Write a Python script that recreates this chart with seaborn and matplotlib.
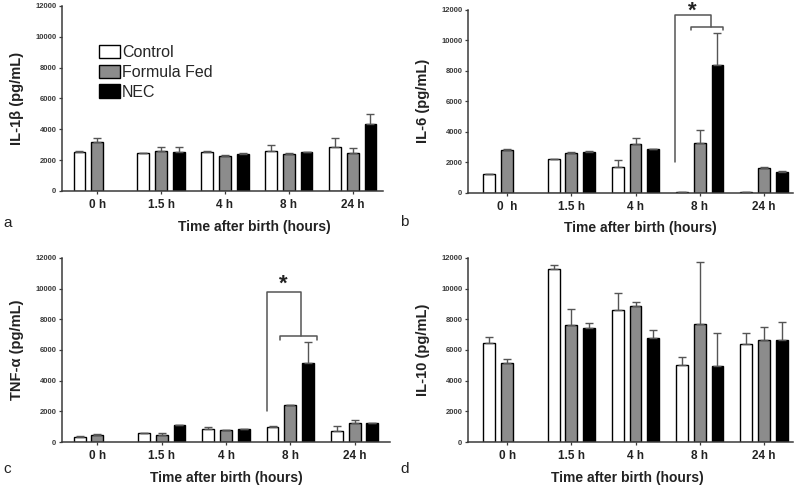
import numpy as np
import pandas as pd
import matplotlib
matplotlib.use("Agg")
import matplotlib.pyplot as plt
import seaborn as sns

# =====================
# Data (mean + upper SEM)
# =====================
times = ["0 h", "1.5 h", "4 h", "8 h", "24 h"]
groups = ["Control", "Formula Fed", "NEC"]
nan = np.nan

il1b_control = [2550, 2440, 2530, 2620, 2820]
il1b_control_err = [60, 50, 90, 330, 610]
il1b_ff = [3170, 2570, 2290, 2420, 2460]
il1b_ff_err = [240, 270, 30, 70, 310]
il1b_nec = [nan, 2510, 2420, 2510, 4310]
il1b_nec_err = [nan, 350, 30, 30, 660]

il6_control = [1230, 2210, 1690, 90, 90]
il6_control_err = [40, 40, 460, 0, 0]
il6_ff = [2800, 2630, 3220, 3260, 1660]
il6_ff_err = [50, 50, 350, 860, 50]
il6_nec = [nan, 2690, 2870, 8390, 1380]
il6_nec_err = [nan, 50, 30, 2080, 50]

tnf_control = [330, 565, 870, 1000, 740]
tnf_control_err = [40, 30, 110, 30, 300]
tnf_ff = [480, 456, 783, 2413, 1240]
tnf_ff_err = [60, 110, 30, 0, 220]
tnf_nec = [nan, 1087, 848, 5130, 1240]
tnf_nec_err = [nan, 20, 20, 1390, 30]

il10_control = [6440, 11280, 8590, 5050, 6400]
il10_control_err = [390, 220, 1150, 520, 710]
il10_ff = [5140, 7640, 8890, 7680, 6640]
il10_ff_err = [260, 1020, 260, 4030, 870]
il10_nec = [nan, 7420, 6770, 4950, 6640]
il10_nec_err = [nan, 350, 520, 2150, 1170]

# significance brackets: (vertical x, lower-bracket left, lower-bracket right, join x,
#                         bottom of vertical, top line, lower bracket y, tick bottom, star x, star y)
bracket_b = [2.61, 2.86, 3.37, 3.17, 2040, 11670, 10900, 10640, 2.89, 11870]
bracket_c = [2.64, 2.84, 3.42, 3.16, 2000, 9760, 6900, 6630, 2.89, 10300]


def make_frame(ctrl, ctrl_err, ff, ff_err, nec, nec_err):
    rows = []
    for vals, errs, g in [(ctrl, ctrl_err, "Control"), (ff, ff_err, "Formula Fed"),
                          (nec, nec_err, "NEC")]:
        for t, v, e in zip(times, vals, errs):
            rows.append({"Time": t, "Group": g, "Value": v, "Err": e})
    return pd.DataFrame(rows).dropna()


panels = [
    dict(df=make_frame(il1b_control, il1b_control_err, il1b_ff, il1b_ff_err, il1b_nec, il1b_nec_err),
         ylabel="IL-1\u03b2 (pg/mL)", letter="a", letter_xy=(0.004, 0.533),
         pos=[0.0775, 0.607, 0.401, 0.381],
         xlim=(-0.55, 4.47), ticks=times, legend=True, xlab_x=0.60, bracket=None),
    dict(df=make_frame(il6_control, il6_control_err, il6_ff, il6_ff_err, il6_nec, il6_nec_err),
         ylabel="IL-6 (pg/mL)", letter="b", letter_xy=(0.5, 0.535),
         pos=[0.585, 0.603, 0.406, 0.377],
         xlim=(-0.61, 4.45), ticks=["0  h"] + times[1:], legend=False, xlab_x=0.53,
         bracket=bracket_b),
    dict(df=make_frame(tnf_control, tnf_control_err, tnf_ff, tnf_ff_err, tnf_nec, tnf_nec_err),
         ylabel="TNF-\u03b1 (pg/mL)", letter="c", letter_xy=(0.004, 0.027),
         pos=[0.0775, 0.0905, 0.41, 0.379],
         xlim=(-0.55, 4.55), ticks=times, legend=False, xlab_x=0.5, bracket=bracket_c),
    dict(df=make_frame(il10_control, il10_control_err, il10_ff, il10_ff_err, il10_nec, il10_nec_err),
         ylabel="IL-10 (pg/mL)", letter="d", letter_xy=(0.5, 0.027),
         pos=[0.585, 0.0905, 0.406, 0.379],
         xlim=(-0.61, 4.45), ticks=times, legend=False, xlab_x=0.49, bracket=None),
]

sns.set_style("ticks")
plt.rcParams["font.family"] = ["Liberation Sans", "DejaVu Sans"]

palette = {"Control": "white", "Formula Fed": "#8c8c8c", "NEC": "black"}
line_col = "#3a3a3a"

fig = plt.figure(figsize=(8, 4.86), dpi=100)

for p in panels:
    ax = fig.add_axes(p["pos"])
    df = p["df"]
    sns.barplot(data=df, x="Time", y="Value", hue="Group", order=times, hue_order=groups,
                palette=palette, edgecolor="black", linewidth=1.0, width=0.83, gap=0.33,
                errorbar=None, legend=p["legend"], ax=ax)

    # upper-only error bars on top of each bar
    for cont, g in zip(ax.containers, groups):
        sub = df[df["Group"] == g].copy()
        sub["order"] = sub["Time"].map(times.index)
        sub = sub.sort_values("order")
        xs = [b.get_x() + b.get_width() / 2 for b in cont]
        hs = [b.get_height() for b in cont]
        ax.errorbar(xs, hs, yerr=[np.zeros(len(sub)), sub["Err"].values], fmt="none",
                    ecolor="#555555", elinewidth=1.0, capsize=2.6, capthick=1.0, zorder=3)

    ax.set_xlim(*p["xlim"])
    ax.set_ylim(0, 12000)
    ax.set_yticks(range(0, 12001, 2000))
    ax.set_xticks(range(len(times)))
    ax.set_xticklabels(p["ticks"], fontsize=8.5, fontweight="bold", color="#222222")
    ax.tick_params(axis="y", labelsize=5.5, length=2.5, width=0.9, colors=line_col, pad=1.5)
    ax.tick_params(axis="x", length=2.5, width=0.9, color=line_col, pad=3)
    for lab in ax.get_yticklabels():
        lab.set_fontweight("bold")
    ax.set_xlabel("Time after birth (hours)", fontsize=10, fontweight="bold", color="#222222")
    ax.xaxis.set_label_coords(p["xlab_x"], -0.155)
    ax.set_ylabel(p["ylabel"], fontsize=10.5, fontweight="bold", color="#222222", labelpad=8)
    sns.despine(ax=ax)
    for s in ["left", "bottom"]:
        ax.spines[s].set_color(line_col)
        ax.spines[s].set_linewidth(1.1)

    if p["legend"]:
        handles, labels = ax.get_legend_handles_labels()
        ax.legend(handles, labels, loc="upper left", bbox_to_anchor=(0.115, 0.79),
                  frameon=False, fontsize=11.5, handlelength=1.3, handleheight=0.95,
                  handletextpad=0.15, labelspacing=0.28, borderpad=0, borderaxespad=0)

    if p["bracket"] is not None:
        vx, lx0, lx1, jx, y0, ytop, ylow, ytick, sx, sy = p["bracket"]
        kw = dict(color="#555555", lw=1.1, clip_on=False)
        ax.plot([vx, vx, jx, jx], [y0, ytop, ytop, ylow], **kw)
        ax.plot([lx0, lx0, lx1, lx1], [ytick, ylow, ylow, ytick], **kw)
        ax.text(sx, sy, "*", ha="center", va="center", fontsize=16, fontweight="bold",
                color="#222222", clip_on=False)

    # panel letter
    fig.text(p["letter_xy"][0], p["letter_xy"][1], p["letter"],
             fontsize=11, color="#222222", ha="left", va="baseline")

fig.savefig("out.png", dpi=100)
